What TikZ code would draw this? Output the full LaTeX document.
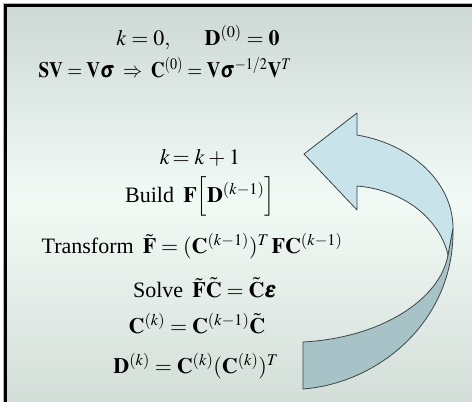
\documentclass[tikz,border=0pt]{standalone}
\usepackage{amsmath}
\usepackage{mathptmx}
\usepackage{bm}
\usepackage[no-math]{fontspec}
\setmainfont{Liberation Serif}
\usetikzlibrary{positioning}
\definecolor{bgTop}{HTML}{CDD9D5}
\definecolor{bgMid}{HTML}{F2FAF6}
\definecolor{bgBot}{HTML}{D4DED9}
\definecolor{ribbonLight}{HTML}{C8E4EA}
\definecolor{ribbonDark}{HTML}{A8C3C7}
\definecolor{ribbonEdge}{HTML}{3C4444}
\newcommand\eqspacing{\thickmuskip=4mu\relax\medmuskip=3mu\relax}

\begin{document}
\begin{tikzpicture}[x=1pt,y=-1pt,
    eqline/.style={anchor=base, inner sep=0pt,
        font=\fontsize{22}{26}\selectfont\eqspacing},
    ribbon/.style={draw=ribbonEdge, line width=0.8pt, line join=round}
]
\useasboundingbox (0,0) rectangle (472,402);

% Background and frame
\fill[white] (0,0) rectangle (472,402);
\begin{scope}[y=1pt]
  \shade[top color=bgTop, bottom color=bgMid] (5,-5) rectangle (472,-200);
  \shade[top color=bgMid, bottom color=bgBot] (5,-199.5) rectangle (472,-402);
\end{scope}
\draw[gray!60, line width=1pt] (3,402) -- (3,3) -- (472,3);
\draw[black, line width=2.5pt] (5.5,402) -- (5.5,5.5) -- (472,5.5);

% Initial guess
\node[eqline] (initK) at (198,45) {$k=0,\quad\;\; \mathbf{D}^{(0)}=\mathbf{0}$};
\node[eqline, transform shape, xscale=0.87] (initC) at (165,77)
    {$\mathbf{SV}=\mathbf{V}\bm{\sigma}\;\Rightarrow\;\mathbf{C}^{(0)}=\mathbf{V}\bm{\sigma}^{-1/2}\mathbf{V}^{T}$};

% SCF loop
\node[eqline] (incK) at (200,164) {$k\!= k+1$};
\node[eqline] (buildF) at (200,202) {Build\, $\mathbf{F}\Bigl[\mathbf{D}^{(k-1)}\Bigr]$};
\node[eqline] (transF) at (192,253) {Transform\, $\tilde{\mathbf{F}}=(\mathbf{C}^{(k-1)})^{T}\,\mathbf{F}\mathbf{C}^{(k-1)}$};
\node[eqline] (solveF) at (205,297) {Solve\, $\tilde{\mathbf{F}}\tilde{\mathbf{C}}=\tilde{\mathbf{C}}\bm{\varepsilon}$};
\node[eqline] (updC) at (197,333) {$\mathbf{C}^{(k)}=\mathbf{C}^{(k-1)}\tilde{\mathbf{C}}$};
\node[eqline] (updD) at (196,373) {$\mathbf{D}^{(k)}=\mathbf{C}^{(k)}(\mathbf{C}^{(k)})^{T}$};

% Curved loop arrow
\coordinate (tip) at (304,154);
\coordinate (seamTop) at (453,228);
\coordinate (seamBot) at (448,255);
\draw[ribbon, fill=ribbonDark] (seamTop) .. controls (455,320) and (380,383) .. (303,389)
    -- (303,342) .. controls (380,338) and (440,300) .. (seamBot) -- cycle;
\draw[ribbon, fill=ribbonLight] (tip) -- (357,113) -- (357,135)
    .. controls (415,145) and (453,185) .. (seamTop) -- (seamBot)
    .. controls (440,220) and (405,190) .. (357,186) -- (357,210) -- cycle;
\end{tikzpicture}
\end{document}
